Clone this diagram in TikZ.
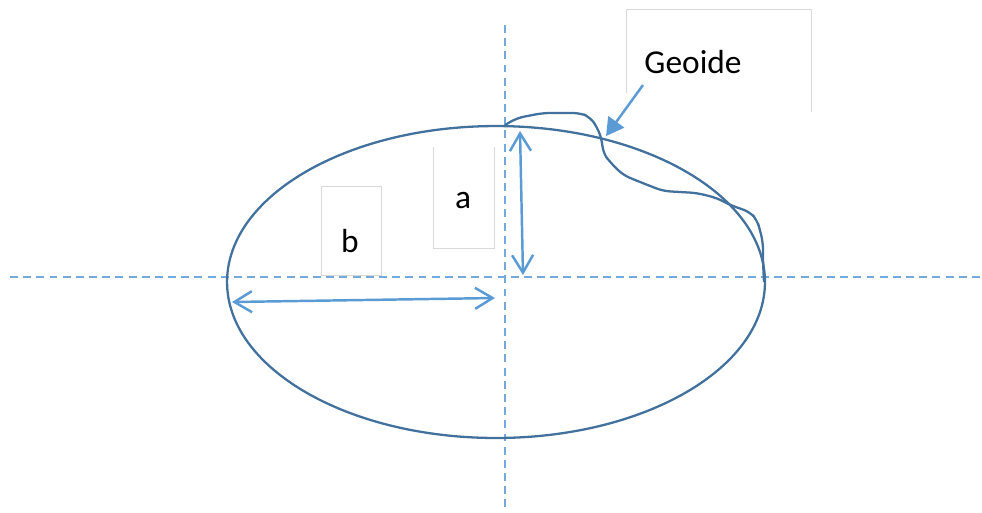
\documentclass[tikz,border=0pt]{standalone}
\usepackage{fontspec}
\setmainfont{Carlito}
\usepackage{xcolor}
\usetikzlibrary{arrows.meta,positioning}
\definecolor{ellblue}{HTML}{41719C}
\definecolor{arrblue}{HTML}{5B9BD5}
\definecolor{boxgray}{HTML}{D9D9D9}

\begin{document}
\begin{tikzpicture}[x=0.02cm,y=-0.02cm,thick]
        \tikzstyle{label} = [inner sep=0pt, font=\fontsize{19}{22}\selectfont]
        \tikzstyle{frame} = [draw=boxgray, line width=0.5pt]
        \tikzstyle{axis} = [arrblue!85, line width=0.6pt, dash pattern=on 4.5pt off 3pt]
        \tikzstyle{dim} = [arrblue, line width=1.4pt, {Straight Barb[length=10pt,width=12pt]}-{Straight Barb[length=10pt,width=12pt]}]
        \useasboundingbox (0,0) rectangle (982,512);

        % Nodes
        \node[label, minimum width=1.18cm, minimum height=1.76cm] (b) at (351.5,231) {};
        \node[label] at (350,241) {b};
        \node[label, minimum width=1.2cm, minimum height=2cm] (a) at (464,198) {};
        \node[label] at (463,200) {a};
        \node[label, minimum width=3.68cm, minimum height=2.02cm] (geo) at (719,61) {};
        \node[label] at (693,62) {Geoide};
        \coordinate (c) at (496,282);
        \coordinate (xl) at (10,277);
        \coordinate (xr) at (982,277);
        \coordinate (yt) at (505,25);
        \coordinate (yb) at (505,512);
        \coordinate (atop) at (520,131);
        \coordinate (abot) at (523,275);
        \coordinate (bl) at (232,302);
        \coordinate (br) at (495,298);
        \coordinate (gtail) at (643,85);
        \coordinate (gtip) at (606,136);

        % Frames
        \draw[frame] (b.south west) rectangle (b.north east);
        \draw[frame] (a.north west) -- (a.south west) -- (a.south east) -- (a.north east);
        \draw[frame] (geo.west |- 0,93) -- (geo.north west) -- (geo.north east) -- (geo.south east);

        % Axes
        \draw[axis] (xl) -- (xr);
        \draw[axis] (yt) -- (yb);

        % Ellipse and geoide
        \draw[ellblue, line width=1.3pt] (c) ellipse [x radius=5.38cm, y radius=3.12cm];
        \draw[ellblue, line width=1.3pt, rounded corners=4pt]
            (505,125) -- (517,118) -- (543,113) -- (580,113) -- (590,117) -- (597,127)
            -- (602,140) -- (603,153) -- (610,162) -- (623,175) -- (640,182)
            -- (663,191) -- (697,193) -- (717,198) -- (730,205) -- (750,212)
            -- (757,220) -- (760,230) -- (763,243) -- (763,262) -- (764,282);

        % Edges
        \draw[dim] (atop) -- (abot);
        \draw[dim] (bl) -- (br);
        \draw[arrblue, line width=1.4pt, -{Triangle[length=10pt,width=11pt]}] (gtail) -- (gtip);
    \end{tikzpicture}
\end{document}
